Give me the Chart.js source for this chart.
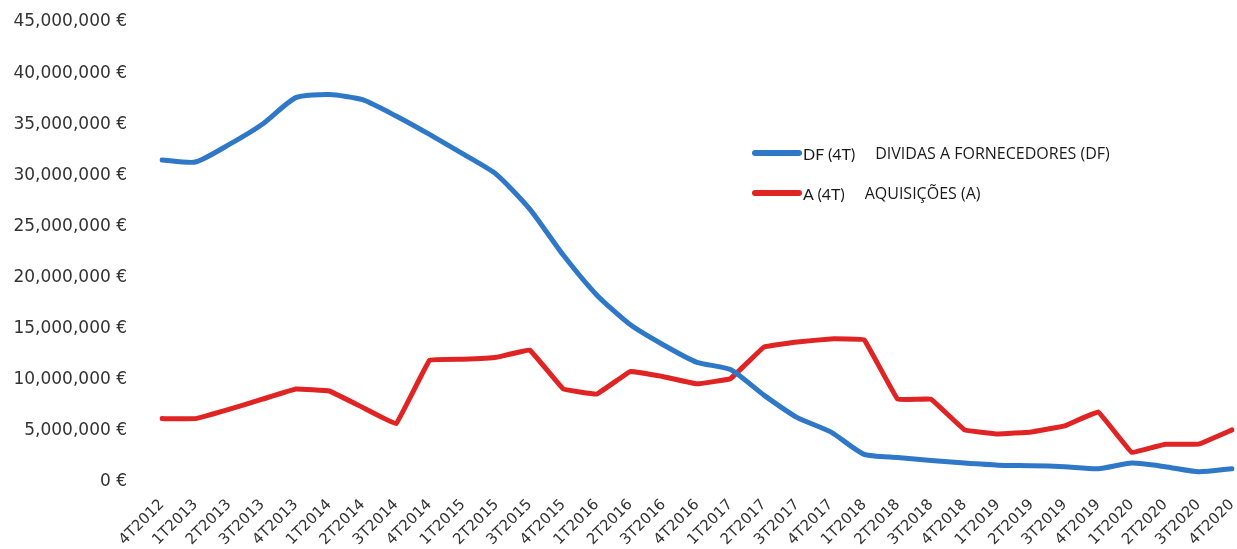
<!DOCTYPE html>
<html>
<head>
<meta charset="utf-8">
<script src="https://cdn.jsdelivr.net/npm/chart.js@4.4.1/dist/chart.umd.min.js"></script>
<style>
  html, body { margin: 0; padding: 0; background: #fff; }
  #wrap { position: relative; width: 1237px; height: 549px; }
  #legend { position: absolute; left: 752px; top: 133px; font-family: Lato, 'Open Sans', sans-serif; color: #1a1a1a; }
  .item { display: flex; align-items: center; height: 40px; }
  .swatch { width: 50px; height: 6px; border-radius: 3px; margin-right: 1px; }
  .code { font-size: 16px; margin-right: 20px; }
  .name { font-family: 'Liberation Sans Narrow', 'Open Sans', sans-serif; font-size: 16px; }
</style>
</head>
<body>
<div id="wrap">
  <canvas id="chart" width="1237" height="549"></canvas>
  <div id="legend"></div>
</div>
<script>
// Trimestres
const trimestres = ['4T2012', '1T2013', '2T2013', '3T2013', '4T2013', '1T2014', '2T2014', '3T2014',
  '4T2014', '1T2015', '2T2015', '3T2015', '4T2015', '1T2016', '2T2016', '3T2016', '4T2016',
  '1T2017', '2T2017', '3T2017', '4T2017', '1T2018', '2T2018', '3T2018', '4T2018',
  '1T2019', '2T2019', '3T2019', '4T2019', '1T2020', '2T2020', '3T2020', '4T2020'];

// Dividas a fornecedores (euros)
const dividasFornecedores = [31500000, 31300000, 33000000, 35000000, 37600000, 37900000, 37400000, 35800000,
  34000000, 32100000, 30100000, 26700000, 22200000, 18300000, 15400000, 13400000, 11700000,
  11000000, 8500000, 6300000, 4900000, 2700000, 2400000, 2100000, 1850000,
  1650000, 1600000, 1500000, 1300000, 1850000, 1500000, 1000000, 1300000];

// Aquisicoes (euros)
const aquisicoes = [6200000, 6200000, 7100000, 8100000, 9100000, 8900000, 7300000, 5700000,
  11900000, 12000000, 12200000, 12900000, 9100000, 8600000, 10800000, 10300000, 9600000,
  10100000, 13200000, 13700000, 14000000, 13900000, 8100000, 8100000, 5100000,
  4700000, 4900000, 5500000, 6850000, 2900000, 3700000, 3700000, 5100000];

const yTicks = [0, 5000000, 10000000, 15000000, 20000000, 25000000, 30000000, 35000000, 40000000, 45000000];

const series = [
  { code: 'DF (4T)', name: 'DIVIDAS A FORNECEDORES (DF)', data: dividasFornecedores, color: '#2f78c8', tension: 0.2 },
  { code: 'A (4T)', name: 'AQUISIÇÕES (A)', data: aquisicoes, color: '#e02424', tension: 0.05 },
];

const fmt = v => v.toLocaleString('en-US') + ' €';

new Chart(document.getElementById('chart'), {
  type: 'line',
  data: {
    labels: trimestres,
    datasets: series.map(s => ({
      label: s.code + ' ' + s.name,
      data: s.data,
      borderColor: s.color,
      borderWidth: 5,
      pointRadius: 0,
      tension: s.tension,
      borderJoinStyle: 'round',
      borderCapStyle: 'round',
    })),
  },
  options: {
    responsive: false,
    animation: false,
    layout: { padding: { top: 22, right: 5, left: 0, bottom: 0 } },
    plugins: { legend: { display: false }, tooltip: { enabled: false } },
    scales: {
      x: {
        offset: false,
        // grid oculto, pero tickLength sirve de separacion para las etiquetas
        grid: { display: false, drawTicks: true, tickLength: 14 },
        border: { display: false },
        afterFit: scale => {
          scale.height = 67;
          scale.paddingLeft = 0;
          scale.paddingRight = 0;
        },
        ticks: {
          autoSkip: false, maxRotation: 45, minRotation: 45, padding: 0,
          color: '#333', font: { family: 'DejaVu Sans', size: 15 },
        },
      },
      y: {
        min: 0, max: 45000000,
        afterBuildTicks: scale => { scale.ticks = yTicks.map(v => ({ value: v })); },
        afterFit: scale => { scale.width = 162; },
        grid: { display: false, drawTicks: true, tickLength: 35 },
        border: { display: false },
        ticks: {
          padding: 0, color: '#333', font: { family: 'DejaVu Sans', size: 17 },
          callback: v => fmt(v),
        },
      },
    },
  },
});

// Leyenda
const legend = document.getElementById('legend');
series.forEach(s => {
  const row = document.createElement('div');
  row.className = 'item';
  row.innerHTML = `<span class="swatch" style="background:${s.color}"></span>` +
    `<span class="code">${s.code}</span><span class="name">${s.name}</span>`;
  legend.appendChild(row);
});
</script>
</body>
</html>
